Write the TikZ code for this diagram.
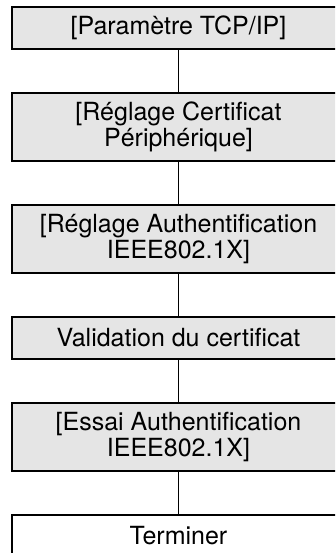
\documentclass[tikz,border=0pt]{standalone}
\usepackage{fontspec}
\setmainfont{TeX Gyre Heros}
\usepackage{tikz}
\usetikzlibrary{positioning}
\definecolor{cfgGrey}{RGB}{229,229,229}

\begin{document}
\begin{tikzpicture}[
      x=1pt,y=1pt,
      font=\fontsize{25}{26.5}\selectfont,
      cfg/.style={rectangle,draw=black,fill=cfgGrey,line width=2.7pt,
                  minimum width=333pt,minimum height=68pt,inner sep=2pt,
                  outer sep=0pt,align=center},
      one/.style={cfg,minimum height=42pt},
      fin/.style={one,fill=white,line width=2pt},
      lnk/.style={black,line width=1pt}]

    \clip (0,0) rectangle (335,-553);

    % ---------- setup steps ----------
    \node[one] (tcp)  at (178.5,-28)  {[Paramètre TCP/IP]};
    \node[cfg] (cert) at (178.5,-127) {[Réglage Certificat\\Périphérique]};
    \node[cfg] (auth) at (178.5,-239) {[Réglage Authentification\\IEEE802.1X]};
    \node[one] (val)  at (178.5,-338) {Validation du certificat};
    \node[cfg] (test) at (178.5,-437) {[Essai Authentification\\IEEE802.1X]};
    \node[fin] (end)  at (178.5,-536) {Terminer};
    \foreach \a/\b in {tcp/cert,cert/auth,auth/val,val/test,test/end}
      \draw[lnk] (\a.south) -- (\b.north);
  \end{tikzpicture}
\end{document}
